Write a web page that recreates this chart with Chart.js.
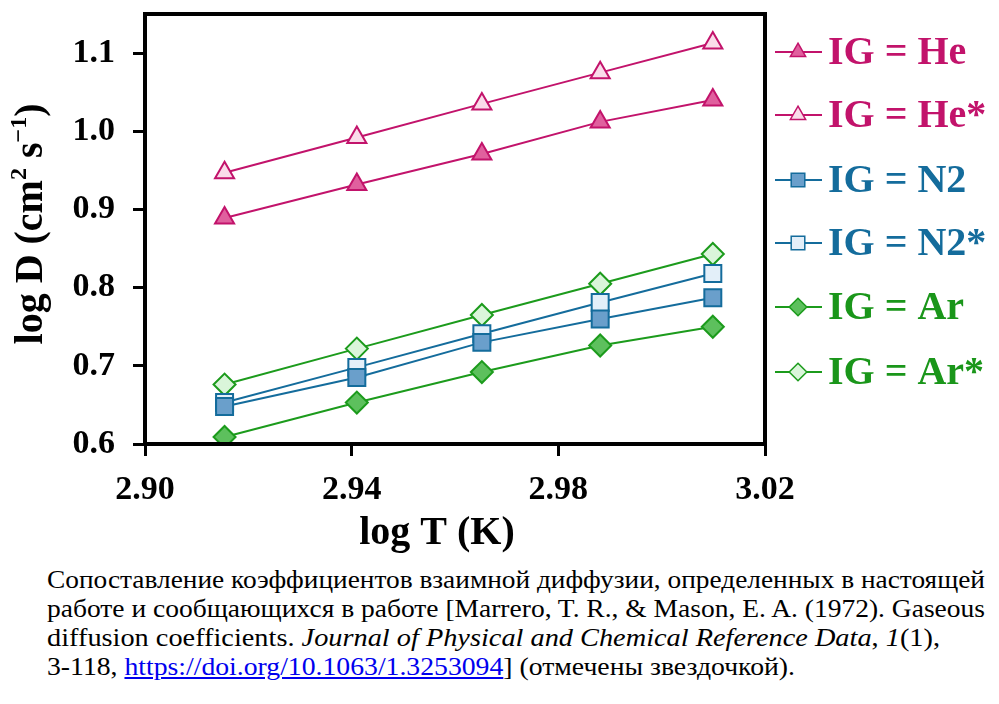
<!DOCTYPE html>
<html><head><meta charset="utf-8">
<script src="https://cdn.jsdelivr.net/npm/chart.js@4.4.1/dist/chart.umd.min.js"></script>
<style>
html,body{margin:0;padding:0;background:#fff;}
body{width:999px;height:704px;overflow:hidden;position:relative;}
#wrap{position:absolute;left:0;top:0;width:999px;height:560px;}
#cap{position:absolute;left:47px;top:565px;font-family:"Liberation Serif","DejaVu Serif",serif;font-size:25px;line-height:29px;color:#000;white-space:nowrap;}
#cap div{transform-origin:0 0;display:inline-block;}
#cap a{color:#0000EE;text-decoration:underline;}
</style></head><body>
<div id="wrap"><canvas id="c" width="999" height="560"></canvas></div>
<div id="cap">
<div>Сопоставление коэффициентов взаимной диффузии, определенных в настоящей</div><br>
<div>работе и сообщающихся в работе [Marrero, T. R., &amp; Mason, E. A. (1972). Gaseous</div><br>
<div>diffusion coefficients. <i>Journal of Physical and Chemical Reference Data</i>, <i>1</i>(1),</div><br>
<div>3-118, <a>https://doi.org/10.1063/1.3253094</a>] (отмечены звездочкой).</div>
</div>
<script>
// ---- data ----
const logT = [2.9154, 2.9410, 2.9652, 2.9881, 3.0099];
const heD   = [0.889, 0.932, 0.971, 1.012, 1.040];
const heStD = [0.947, 0.992, 1.035, 1.075, 1.113];
const n2D   = [0.648, 0.685, 0.730, 0.760, 0.787];
const n2StD = [0.653, 0.698, 0.741, 0.781, 0.818];
const arD   = [0.609, 0.653, 0.692, 0.726, 0.750];
const arStD = [0.676, 0.722, 0.765, 0.805, 0.843];
const seriesNames = ['IG = He', 'IG = He*', 'IG = N2', 'IG = N2*', 'IG = Ar', 'IG = Ar*'];
const xTickValues = [2.90, 2.94, 2.98, 3.02];
const yTickValues = [0.6, 0.7, 0.8, 0.9, 1.0, 1.1];

// caption line widths fitted to reference
const capWidths = [938, 938, 893, 748];
document.querySelectorAll('#cap div').forEach((d, i) => {
  const w = d.getBoundingClientRect().width;
  d.style.transform = 'scaleX(' + (capWidths[i] / w) + ')';
});

const FONT = '"Liberation Serif", "Times New Roman", serif';
const heLine = '#C2136B', n2Line = '#146C9C', arLine = '#1C9B1C';
const seriesStyle = [
  {line: heLine, fill: '#E0609E', shape: 'triangle', r: 11},
  {line: heLine, fill: '#FADCEA', shape: 'triangle', r: 11},
  {line: n2Line, fill: '#6A9FCB', shape: 'rect', r: 12},
  {line: n2Line, fill: '#E3EFF9', shape: 'rect', r: 12},
  {line: arLine, fill: '#5DC05D', shape: 'rectRot', r: 11},
  {line: arLine, fill: '#DAF5DA', shape: 'rectRot', r: 11}
];
const seriesValues = [heD, heStD, n2D, n2StD, arD, arStD];

const datasets = seriesValues.map((vals, i) => ({
  label: seriesNames[i],
  data: logT.map((x, j) => ({x: x, y: vals[j]})),
  borderColor: seriesStyle[i].line,
  borderWidth: 2,
  backgroundColor: seriesStyle[i].fill,
  pointStyle: seriesStyle[i].shape,
  pointRadius: seriesStyle[i].r,
  pointBorderWidth: 2,
  pointBorderColor: seriesStyle[i].line,
  pointBackgroundColor: seriesStyle[i].fill,
  tension: 0,
  fill: false
}));

function drawMarker(ctx, shape, x, y, r, fill, stroke) {
  ctx.save();
  ctx.beginPath();
  if (shape === 'triangle') {
    ctx.moveTo(x, y - r);
    ctx.lineTo(x + r * 0.866, y + r * 0.5);
    ctx.lineTo(x - r * 0.866, y + r * 0.5);
    ctx.closePath();
  } else if (shape === 'rect') {
    const s = r * Math.SQRT1_2;
    ctx.rect(x - s, y - s, 2 * s, 2 * s);
  } else {
    ctx.moveTo(x, y - r); ctx.lineTo(x + r, y); ctx.lineTo(x, y + r); ctx.lineTo(x - r, y); ctx.closePath();
  }
  ctx.fillStyle = fill; ctx.fill();
  ctx.lineWidth = 1.5; ctx.strokeStyle = stroke; ctx.stroke();
  ctx.restore();
}

const decor = {
  id: 'decor',
  afterDraw(chart) {
    const ctx = chart.ctx, a = chart.chartArea;
    ctx.save();
    // frame
    ctx.strokeStyle = '#000'; ctx.lineWidth = 4;
    ctx.strokeRect(a.left, a.top, a.right - a.left, a.bottom - a.top);
    // x title
    ctx.fillStyle = '#000';
    ctx.font = 'bold 40px ' + FONT;
    ctx.textAlign = 'center'; ctx.textBaseline = 'alphabetic';
    ctx.fillText('log T (K)', 437, 544);
    // y title with superscripts
    ctx.save();
    ctx.translate(42, 224);
    ctx.rotate(-Math.PI / 2);
    const big = 'bold 40px ' + FONT, small = 'bold 24px ' + FONT;
    const parts = [['log D (cm', big, 0], ['2', small, -16], [' s', big, 0], ['\u22121', small, -16], [')', big, 0]];
    let total = 0;
    parts.forEach(p => { ctx.font = p[1]; total += ctx.measureText(p[0]).width; });
    let x = -total / 2;
    ctx.textAlign = 'left';
    parts.forEach(p => { ctx.font = p[1]; ctx.fillText(p[0], x, p[2]); x += ctx.measureText(p[0]).width; });
    ctx.restore();
    // legend
    const rows = [52, 115, 180, 243, 307, 372];
    const txtCol = [heLine, heLine, n2Line, n2Line, '#1A961A', '#1A961A'];
    rows.forEach((yy, i) => {
      const st = seriesStyle[i];
      ctx.strokeStyle = st.line; ctx.lineWidth = 2;
      ctx.beginPath(); ctx.moveTo(775, yy); ctx.lineTo(822, yy); ctx.stroke();
      drawMarker(ctx, st.shape, 798, yy, st.r * 0.8, st.fill, st.line);
      ctx.font = 'bold 40px ' + FONT;
      ctx.fillStyle = txtCol[i];
      ctx.textAlign = 'left'; ctx.textBaseline = 'middle';
      ctx.fillText(seriesNames[i], 828, yy + 2);
    });
    ctx.restore();
  }
};

function zeroPad(s) { s.paddingTop = 0; s.paddingBottom = 0; s.paddingLeft = 0; s.paddingRight = 0; }

Chart.defaults.font.family = FONT;
new Chart(document.getElementById('c'), {
  type: 'line',
  data: {datasets: datasets},
  options: {
    responsive: false,
    animation: false,
    layout: {padding: {top: 9, right: 234, left: 0, bottom: 0}},
    plugins: {legend: {display: false}, tooltip: {enabled: false}},
    scales: {
      x: {
        type: 'linear', min: 2.90, max: 3.02,
        afterBuildTicks: s => { s.ticks = xTickValues.map(v => ({value: v})); },
        afterFit: s => { s.height = 116; zeroPad(s); },
        ticks: {color: '#000', font: {size: 34, weight: 'bold'}, padding: 14, maxRotation: 0,
                callback: v => Number(v).toFixed(2)},
        grid: {drawOnChartArea: false, drawTicks: true, tickLength: 12, tickWidth: 3, tickColor: '#000'},
        border: {display: false}
      },
      y: {
        type: 'linear', min: 0.6, max: 1.15,
        afterBuildTicks: s => { s.ticks = yTickValues.map(v => ({value: v})); },
        afterFit: s => { s.width = 145; zeroPad(s); },
        ticks: {color: '#000', font: {size: 34, weight: 'bold'}, padding: 18,
                callback: v => Number(v).toFixed(1)},
        grid: {drawOnChartArea: false, drawTicks: true, tickLength: 12, tickWidth: 3, tickColor: '#000'},
        border: {display: false}
      }
    }
  },
  plugins: [decor]
});
</script>
</body></html>
